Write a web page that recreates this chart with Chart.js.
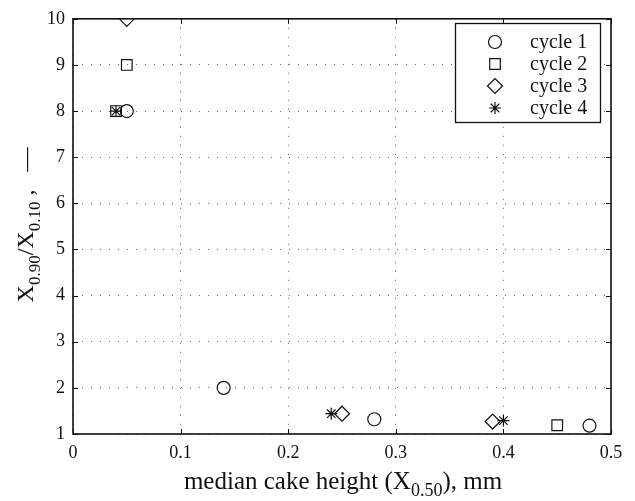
<!DOCTYPE html>
<html>
<head>
<meta charset="utf-8">
<script src="https://cdn.jsdelivr.net/npm/chart.js@4"></script>
<style>
  html, body { margin: 0; padding: 0; background: #fff; }
  #wrap { width: 635px; height: 501px; position: relative; }
</style>
</head>
<body>
<div id="wrap"><canvas id="chart"></canvas></div>
<script>
// data
const seriesNames = ['cycle 1', 'cycle 2', 'cycle 3', 'cycle 4'];
const cycle1X = [0.05, 0.14, 0.28, 0.48];
const cycle1Y = [8, 2, 1.32, 1.18];
const cycle2X = [0.05, 0.04, 0.45];
const cycle2Y = [9, 8, 1.19];
const cycle3X = [0.05, 0.25, 0.39];
const cycle3Y = [10, 1.44, 1.27];
const cycle4X = [0.04, 0.24, 0.40];
const cycle4Y = [8, 1.44, 1.29];
const xTicks = [0, 0.1, 0.2, 0.3, 0.4, 0.5];
const yTicks = [1, 2, 3, 4, 5, 6, 7, 8, 9, 10];

const serif = "'Liberation Serif', 'DejaVu Serif', serif";
const ink = '#111';

const toPoints = (xs, ys) => xs.map((x, i) => ({ x: x, y: ys[i] }));

const markers = [
    { style: 'circle', radius: 6.5 },
    { style: 'rect', radius: 7.5 },
    { style: 'rectRot', radius: 7.5 },
    { style: 'star', radius: 6 }
];
const allX = [cycle1X, cycle2X, cycle3X, cycle4X];
const allY = [cycle1Y, cycle2Y, cycle3Y, cycle4Y];

const datasets = seriesNames.map((name, i) => ({
    label: name,
    data: toPoints(allX[i], allY[i]),
    pointStyle: markers[i].style,
    pointRadius: markers[i].radius,
    pointHoverRadius: markers[i].radius,
    borderColor: ink,
    backgroundColor: 'rgba(0,0,0,0)',
    pointBorderWidth: 1.2
}));

// draw text with subscripts, pieces = [[text, isSub], ...]
function drawRich(ctx, pieces, size, subSize) {
    let total = 0;
    const widths = pieces.map(([t, sub]) => {
        ctx.font = (sub ? subSize : size) + 'px ' + serif;
        const w = ctx.measureText(t).width;
        total += w;
        return w;
    });
    let x = -total / 2;
    pieces.forEach(([t, sub], i) => {
        ctx.font = (sub ? subSize : size) + 'px ' + serif;
        ctx.fillText(t, x, sub ? size * 0.28 : 0);
        x += widths[i];
    });
}

const framePlugin = {
    id: 'frame',
    afterDraw(chart) {
        const { ctx, chartArea: a, scales } = chart;
        ctx.save();
        ctx.strokeStyle = ink;
        ctx.lineWidth = 1;
        const t = 5;
        ctx.beginPath();
        xTicks.forEach(v => {
            const px = Math.round(scales.x.getPixelForValue(v)) + 0.5;
            ctx.moveTo(px, a.bottom); ctx.lineTo(px, a.bottom - t);
            ctx.moveTo(px, a.top); ctx.lineTo(px, a.top + t);
        });
        yTicks.forEach(v => {
            const py = Math.round(scales.y.getPixelForValue(v)) + 0.5;
            ctx.moveTo(a.left, py); ctx.lineTo(a.left + t, py);
            ctx.moveTo(a.right, py); ctx.lineTo(a.right - t, py);
        });
        ctx.stroke();

        // legend box inside the plot
        const bx = 455, by = 23, bw = 145, bh = 99;
        ctx.fillStyle = '#fff';
        ctx.fillRect(bx, by, bw, bh);
        ctx.lineWidth = 1.3;
        ctx.strokeRect(bx + 0.5, by + 0.5, bw, bh);
        ctx.textBaseline = 'middle';
        ctx.textAlign = 'left';
        seriesNames.forEach((name, i) => {
            const ry = by + 19 + i * 22;
            ctx.strokeStyle = ink;
            ctx.fillStyle = 'rgba(0,0,0,0)';
            ctx.lineWidth = 1.2;
            Chart.helpers.drawPoint(ctx, {
                pointStyle: markers[i].style,
                radius: markers[i].radius,
                borderWidth: 1.2,
                rotation: 0
            }, 495, ry);
            ctx.fillStyle = ink;
            ctx.font = '20px ' + serif;
            ctx.fillText(name, 530, ry + 1);
        });

        // frame
        ctx.strokeStyle = ink;
        ctx.lineWidth = 1.6;
        ctx.strokeRect(a.left, a.top, a.right - a.left, a.bottom - a.top);

        // axis titles
        ctx.textAlign = 'left';
        ctx.textBaseline = 'alphabetic';
        ctx.fillStyle = ink;
        ctx.save();
        ctx.translate((a.left + a.right) / 2 + 1, 489);
        drawRich(ctx, [['median cake height (X', false], ['0.50', true], ['), mm', false]], 25, 18);
        ctx.restore();
        ctx.save();
        ctx.translate(33, 225);
        ctx.rotate(-Math.PI / 2);
        drawRich(ctx, [['X', false], ['0.90', true], ['/X', false], ['0.10', true], [' ,', false], ['   \u2014', false]], 24, 17);
        ctx.restore();
        ctx.restore();
    }
};

new Chart(document.getElementById('chart'), {
    type: 'scatter',
    data: { datasets: datasets },
    plugins: [framePlugin],
    options: {
        responsive: true,
        maintainAspectRatio: false,
        animation: false,
        layout: { padding: { top: 15, right: 24, left: 0, bottom: 0 } },
        plugins: { legend: { display: false }, tooltip: { enabled: false } },
        scales: {
            x: {
                type: 'linear',
                min: 0,
                max: 0.5,
                afterBuildTicks: s => { s.ticks = xTicks.map(v => ({ value: v })); },
                afterFit: s => { s.height = 67; },
                ticks: {
                    color: ink,
                    padding: 8,
                    maxRotation: 0,
                    font: { family: serif, size: 18 },
                    callback: v => String(v)
                },
                grid: { color: '#666', lineWidth: 1, drawTicks: false },
                border: { display: false, dash: [1, 8] }
            },
            y: {
                min: 1,
                max: 10,
                afterBuildTicks: s => { s.ticks = yTicks.map(v => ({ value: v })); },
                afterFit: s => { s.width = 73; },
                ticks: {
                    color: ink,
                    padding: 8,
                    font: { family: serif, size: 18 }
                },
                grid: { color: '#666', lineWidth: 1, drawTicks: false },
                border: { display: false, dash: [1, 8] }
            }
        }
    }
});
</script>
</body>
</html>
